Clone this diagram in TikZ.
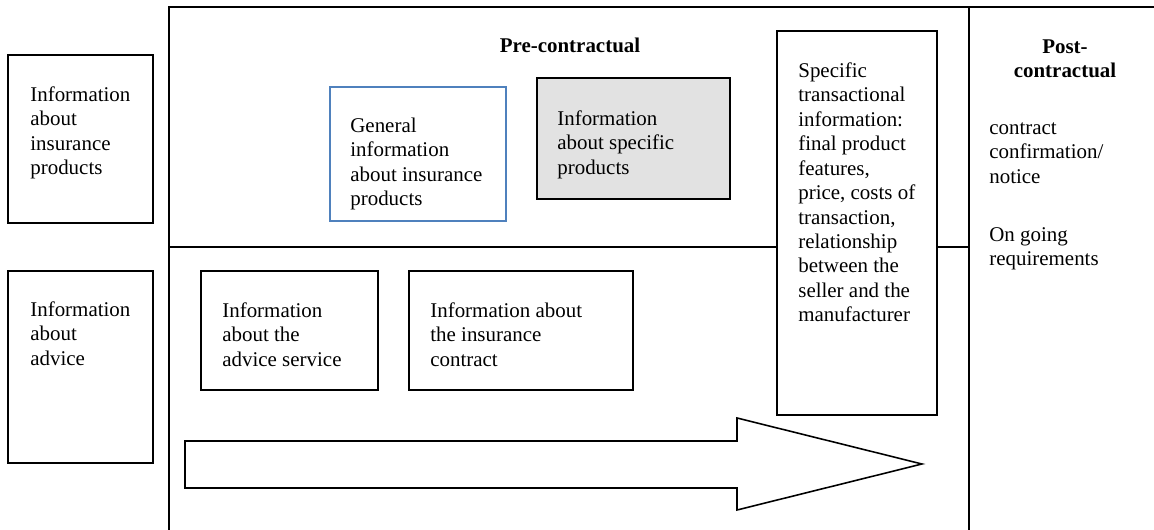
\documentclass[tikz,border=0pt]{standalone}
\usepackage{fontspec}
\setmainfont{Liberation Serif}
\usetikzlibrary{fit}
\definecolor{frameblue}{RGB}{79,129,189}
\definecolor{shadegray}{RGB}{226,226,226}
\begin{document}
\begin{tikzpicture}[x=0.573pt,y=-0.573pt,
  box/.style={draw=black,line width=0.9pt,inner sep=0pt},
  bluebox/.style={draw=frameblue,line width=0.9pt,inner sep=0pt},
  shadebox/.style={box,fill=shadegray},
  txt/.style={inner sep=0pt,anchor=north west,align=left,
    font=\fontsize{12}{14}\selectfont},
  head/.style={inner sep=0pt,anchor=base,align=center,
    font=\fontsize{12}{14}\selectfont\bfseries},
  rule/.style={line width=0.9pt}]
\useasboundingbox (0,0) rectangle (1154,530);

% outer frame and stage divisions
\coordinate (tl) at (169,7);
\coordinate (tr) at (1154,7);
\coordinate (bl) at (169,530);
\coordinate (sm) at (969,7);
\coordinate (bm) at (969,530);
\draw[rule] (tr) -- (tl) -- (bl);
\draw[rule] (sm) -- (bm);

% left column
\node[box,fit={(8,55) (153,223)}] (prodbox) {};
\node[txt] (prodtxt) at (30,84) {\strut Information\\about\\insurance\\products};
\node[box,fit={(8,271) (153,463)}] (advbox) {};
\node[txt] (advtxt) at (30,299) {\strut Information\\about\\advice};

% pre-contractual stage
\node[head] (pre) at (570,53) {Pre-contractual};
\node[bluebox,fit={(330,87) (506,221)}] (genbox) {};
\node[txt] (gentxt) at (350,115) {\strut General\\information\\about insurance\\products};
\node[shadebox,fit={(537,78) (730,199)}] (specbox) {};
\node[txt] (spectxt) at (557,108) {\strut Information\\about specific\\products};
\node[box,fit={(777,31) (937,415)}] (transbox) {};
\node[txt] (transtxt) at (798,60) {\strut Specific\\transactional\\information:\\final product\\features,\\price, costs of\\transaction,\\relationship\\between the\\seller and the\\manufacturer};

% divider between product and advice rows
\coordinate (dl) at (169,247);
\coordinate (dr) at (969,247);
\draw[rule] (dl) -- (transbox.west |- dl);
\draw[rule] (transbox.east |- dr) -- (dr);

\node[box,fit={(201,271) (378,390)}] (servbox) {};
\node[txt] (servtxt) at (222,300) {\strut Information\\about the\\advice service};
\node[box,fit={(409,271) (633,390)}] (contbox) {};
\node[txt] (conttxt) at (430,300) {\strut Information about\\the insurance\\contract};

% time arrow
\draw[line width=0.9pt,line join=miter] (185,441) -- (737,441) -- (737,418) -- (922,464)
  -- (737,510) -- (737,488) -- (185,488) -- cycle;

% post-contractual stage
\node[head] (post) at (1065,78) {Post-\\contractual};
\node[txt] (confirm) at (989,117) {\strut contract\\confirmation/\\notice};
\node[txt] (ongoing) at (989,224) {\strut On going\\requirements};
\end{tikzpicture}
\end{document}
